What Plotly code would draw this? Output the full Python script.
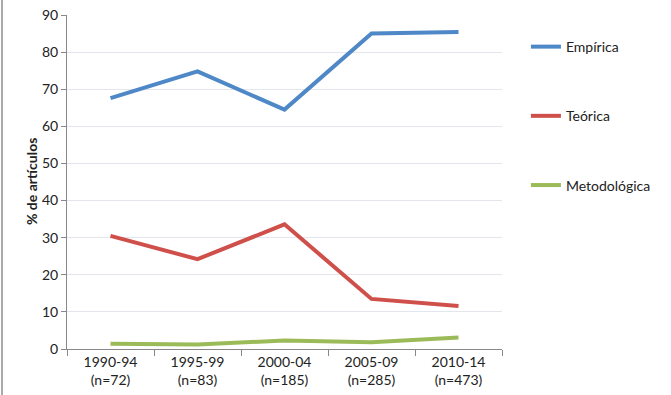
import plotly.graph_objects as go

categories = ["1990-94<br>(n=72)", "1995-99<br>(n=83)", "2000-04<br>(n=185)", "2005-09<br>(n=285)", "2010-14<br>(n=473)"]
empirica = [67.6, 74.8, 64.5, 85.0, 85.4]
teorica = [30.5, 24.2, 33.6, 13.5, 11.6]
metodologica = [1.4, 1.2, 2.3, 1.8, 3.1]
y_ticks = [0, 10, 20, 30, 40, 50, 60, 70, 80, 90]

FONT = "Lato, 'Open Sans', sans-serif"

fig = go.Figure()
series = [("Empírica", empirica, "#4f88c6"),
          ("Teórica", teorica, "#cf504a"),
          ("Metodológica", metodologica, "#9bbb59")]
for i, (name, vals, col) in enumerate(series):
    fig.add_trace(go.Scatter(x=categories, y=vals, mode="lines", name=name,
                             legendgroup=name,
                             line=dict(color=col, width=4)))

fig.update_layout(
    width=671, height=395,
    margin=dict(l=67, r=169, t=15, b=46),
    paper_bgcolor="white", plot_bgcolor="white",
    font=dict(family=FONT, size=14, color="#222"),
    showlegend=True,
    legend=dict(x=1.055, y=0.952, xanchor="left", yanchor="top",
                tracegroupgap=48, itemwidth=30,
                font=dict(family=FONT, size=14, color="#222"),
                bgcolor="rgba(0,0,0,0)"),
    xaxis=dict(type="category", tickson="boundaries", ticks="outside",
               ticklen=6, tickcolor="#888", showline=True, linecolor="#888",
               linewidth=1, showgrid=False, tickfont=dict(size=14, color="#222"),
               range=[-0.5, 4.5], automargin=False),
    yaxis=dict(range=[0, 90], tickvals=y_ticks, ticks="outside", ticklen=5,
               tickcolor="#888", showline=True, linecolor="#888", linewidth=1,
               showgrid=True, gridcolor="#e4e6ef", gridwidth=1, zeroline=False,
               tickfont=dict(size=14, color="#222"), automargin=False),
    annotations=[dict(text="<b>% de artículos</b>", xref="paper", yref="paper",
                      x=(31 - 67) / 435, y=0.5, textangle=-90, showarrow=False,
                      xanchor="center", yanchor="middle",
                      font=dict(family=FONT, size=14, color="#222"))],
    shapes=[dict(type="line", xref="paper", yref="paper",
                 x0=-65/435, x1=-65/435, y0=-46/334, y1=15/334 + 1.0,
                 line=dict(color="#aaaaaa", width=2))],
)

fig.write_html("out.html", config={"displayModeBar": False})

with open("out.html", "r", encoding="utf-8") as f:
    html = f.read()
html = html.replace("<head>", "<head><style>html,body{margin:0;padding:0;overflow:hidden;}</style>", 1)
with open("out.html", "w", encoding="utf-8") as f:
    f.write(html)
